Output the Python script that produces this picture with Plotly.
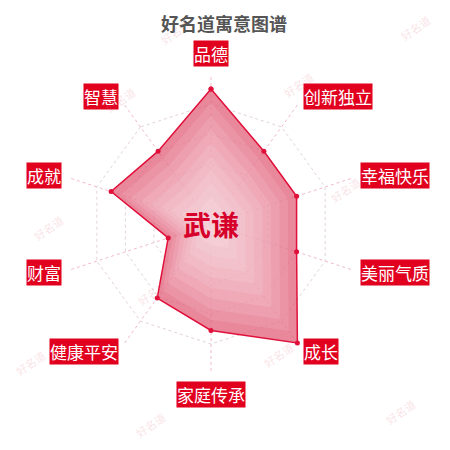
import math
import plotly.graph_objects as go

# 寓意维度 (clockwise from top) and scores out of 100
categories = ['品德', '创新独立', '幸福快乐', '美丽气质', '成长',
              '家庭传承', '健康平安', '财富', '成就', '智慧']
scores = [90, 60, 60, 60, 98, 71, 61, 30, 70, 60]

title_text = '好名道寓意图谱'
name_text = '武谦'
watermark_text = '好名道'

W = H = 450
PAD = 8  # page body margin shifts everything by this much
cx, cy, R = 211 - PAD, H - 224 + PAD, 150  # polar centre (px, y from bottom) and radius


def px(x, y_top):
    # page pixel position -> paper coords
    return (x - PAD) / W, 1 - (y_top - PAD) / H


fig = go.Figure()

fig.add_trace(go.Scatterpolar(
    r=scores + scores[:1],
    theta=categories + categories[:1],
    mode='lines+markers',
    fill='toself',
    fillcolor='rgba(225,95,122,0.75)',
    line=dict(color='#e0103a', width=1.5),
    marker=dict(color='#e0103a', size=5),
    hoverinfo='skip',
))

# lighter towards the centre (fake radial gradient)
for k in [0.9, 0.8, 0.7, 0.6, 0.5, 0.4, 0.3, 0.2, 0.1]:
    fig.add_trace(go.Scatterpolar(
        r=[v * k for v in scores + scores[:1]],
        theta=categories + categories[:1],
        mode='none', fill='toself',
        fillcolor='rgba(255,255,255,0.11)',
        hoverinfo='skip',
    ))

# category labels in red boxes, placed just outside each spoke
annotations = []
n = len(categories)
for i, cat in enumerate(categories):
    ang = math.radians(90 - i * 360 / n)
    c, s = math.cos(ang), math.sin(ang)
    rl = R + 7
    if c > 0.01:
        xa = 'left'
    elif c < -0.01:
        xa = 'right'
    else:
        xa = 'center'
    if s > 0.99:
        ya = 'bottom'
    elif s < -0.99:
        ya = 'top'
    else:
        ya = 'middle'
    annotations.append(dict(
        text=cat, x=(cx + rl * c) / W, y=(cy + rl * s) / H,
        xref='paper', yref='paper', xanchor=xa, yanchor=ya,
        showarrow=False, bgcolor='#e2001f', borderpad=0,
        font=dict(family='Noto Sans CJK SC', size=17, color='white'),
    ))

# faint watermarks
for wx, wy in [(175, 32), (415, 28), (120, 100), (298, 85), (48, 228),
               (152, 293), (278, 355), (400, 412), (30, 363), (345, 190),
               (150, 425)]:
    x, y = px(wx, wy)
    annotations.append(dict(
        text=watermark_text, x=x, y=y, xref='paper', yref='paper',
        xanchor='center', yanchor='middle',
        showarrow=False, textangle=-35,
        font=dict(family='Noto Sans CJK SC', size=11, color='rgba(225,120,140,0.22)'),
    ))

# centre name
annotations.append(dict(
    text='<b>' + name_text + '</b>', x=cx / W, y=cy / H, xref='paper', yref='paper',
    xanchor='center', yanchor='middle',
    showarrow=False, font=dict(family='Noto Sans CJK SC', size=28, color='#d6002a'),
))

# title
tx, _ = px(224, 11)
annotations.append(dict(
    text='<b>' + title_text + '</b>', x=tx, y=1, xref='paper', yref='paper',
    xanchor='center', yanchor='top',
    showarrow=False, font=dict(family='Noto Sans CJK SC', size=18, color='#555555'),
))

fig.update_layout(
    width=W, height=H,
    margin=dict(l=0, r=0, t=0, b=0),
    paper_bgcolor='white',
    showlegend=False,
    annotations=annotations,
    polar=dict(
        domain=dict(x=[(cx - R) / W, (cx + R) / W], y=[(cy - R) / H, (cy + R) / H]),
        bgcolor='white',
        gridshape='linear',
        radialaxis=dict(range=[0, 100], dtick=20, showticklabels=False, ticks='',
                        showline=False, gridcolor='#e3d3d7', griddash='dot', gridwidth=1),
        angularaxis=dict(categoryorder='array', categoryarray=categories,
                         rotation=90, direction='clockwise', showticklabels=False,
                         ticks='', showline=False,
                         gridcolor='rgba(230,140,160,0.6)', griddash='dot'),
    ),
)

fig.write_html('out.html')
